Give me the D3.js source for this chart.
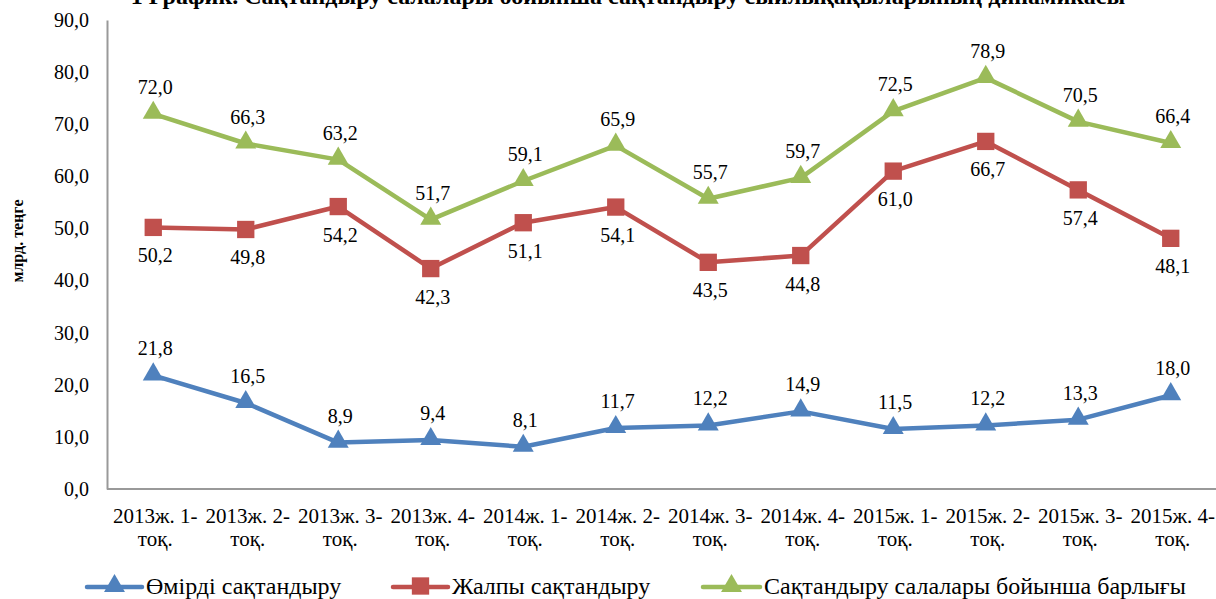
<!DOCTYPE html>
<html lang="kk">
<head>
    <meta charset="UTF-8">
    <title>Сақтандыру сыйлықақылары</title>
    <script src="https://cdn.jsdelivr.net/npm/d3@7"></script>
    <style>
        html, body {
            margin: 0;
            padding: 0;
            width: 100%;
            height: 100%;
            overflow: hidden;
            background: #ffffff;
        }
        svg text {
            font-family: "Liberation Serif", "Times New Roman", serif;
            fill: #000;
        }
    </style>
</head>
<body>
</body>
<script>
    // categories
    const quarters = [
        ['2013ж. 1-', 'тоқ.'], ['2013ж. 2-', 'тоқ.'], ['2013ж. 3-', 'тоқ.'], ['2013ж. 4-', 'тоқ.'],
        ['2014ж. 1-', 'тоқ.'], ['2014ж. 2-', 'тоқ.'], ['2014ж. 3-', 'тоқ.'], ['2014ж. 4-', 'тоқ.'],
        ['2015ж. 1-', 'тоқ.'], ['2015ж. 2-', 'тоқ.'], ['2015ж. 3-', 'тоқ.'], ['2015ж. 4-', 'тоқ.']
    ];

    // series values, млрд. теңге
    const lifeIns = [21.8, 16.5, 8.9, 9.4, 8.1, 11.7, 12.2, 14.9, 11.5, 12.2, 13.3, 18.0];
    const generalIns = [50.2, 49.8, 54.2, 42.3, 51.1, 54.1, 43.5, 44.8, 61.0, 66.7, 57.4, 48.1];
    const totalIns = [72.0, 66.3, 63.2, 51.7, 59.1, 65.9, 55.7, 59.7, 72.5, 78.9, 70.5, 66.4];

    const yTicks = [0, 10, 20, 30, 40, 50, 60, 70, 80, 90];

    const series = [
        {name: 'Өмірді сақтандыру', values: lifeIns, color: '#4f81bd', marker: 'triangle', labelPos: 'above'},
        {name: 'Жалпы сақтандыру', values: generalIns, color: '#c0504d', marker: 'square', labelPos: 'below'},
        {name: 'Сақтандыру салалары бойынша барлығы', values: totalIns, color: '#9bbb59', marker: 'triangle', labelPos: 'above'}
    ];

    const width = 1216;
    const height = 599;
    const margin = {top: 20, left: 107, bottom: 110};
    const fmt = v => d3.format('.1f')(v).replace('.', ',');

    const svg = d3.select('body').append('svg')
        .attr('width', width)
        .attr('height', height);

    // заголовок (жоғарыдан қиылған)
    svg.append('text')
        .attr('x', 628)
        .attr('y', 4)
        .attr('text-anchor', 'middle')
        .style('font-size', '24px')
        .style('font-weight', 'bold')
        .text('1 График. Сақтандыру салалары бойынша сақтандыру сыйлықақыларының динамикасы');

    const x = d3.scaleBand()
        .domain(d3.range(quarters.length))
        .range([margin.left, margin.left + 92.5 * quarters.length]);

    const y = d3.scaleLinear()
        .domain([0, 90])
        .range([height - margin.bottom, margin.top]);

    const cx = i => x(i) + x.bandwidth() / 2;

    // оси
    const yAxis = svg.append('g')
        .attr('transform', `translate(${margin.left},0)`)
        .call(d3.axisLeft(y).tickValues(yTicks).tickSize(0).tickPadding(18).tickFormat(fmt));
    yAxis.select('.domain').attr('stroke', '#999').attr('stroke-width', 2);
    yAxis.selectAll('text').style('font-size', '20px');

    svg.append('line')
        .attr('x1', margin.left)
        .attr('x2', width)
        .attr('y1', y(0))
        .attr('y2', y(0))
        .attr('stroke', '#999')
        .attr('stroke-width', 2);

    const xLabels = svg.append('g')
        .selectAll('text')
        .data(quarters)
        .enter().append('text')
        .attr('text-anchor', 'middle')
        .attr('x', (d, i) => cx(i) + 2)
        .attr('y', 523)
        .style('font-size', '21px');
    xLabels.append('tspan').text(d => d[0]);
    xLabels.append('tspan')
        .attr('x', (d, i) => cx(i) + 2)
        .attr('dy', 23)
        .text(d => d[1]);

    svg.append('text')
        .attr('transform', `translate(23,241) rotate(-90)`)
        .attr('text-anchor', 'middle')
        .style('font-size', '16px')
        .style('font-weight', 'bold')
        .text('млрд. теңге');

    const triangle = d3.symbol().type(d3.symbolTriangle).size(190);
    const square = d3.symbol().type(d3.symbolSquare).size(300);

    const line = d3.line()
        .x((d, i) => cx(i))
        .y(d => y(d));

    series.forEach(s => {
        const g = svg.append('g');
        g.append('path')
            .datum(s.values)
            .attr('d', line)
            .attr('fill', 'none')
            .attr('stroke', s.color)
            .attr('stroke-width', 4.5)
            .attr('stroke-linejoin', 'round');

        g.selectAll('.marker')
            .data(s.values)
            .enter().append('path')
            .attr('transform', (d, i) => `translate(${cx(i)},${y(d) + (s.marker === 'triangle' ? -1 : 0)})`)
            .attr('d', s.marker === 'triangle' ? triangle : square)
            .attr('fill', s.color);

        g.selectAll('.label')
            .data(s.values)
            .enter().append('text')
            .attr('text-anchor', 'middle')
            .attr('x', (d, i) => cx(i) + 2)
            .attr('y', d => y(d) + (s.labelPos === 'above' ? -20 : 35))
            .style('font-size', '20px')
            .text(fmt);
    });

    // легенда
    const legendItems = [
        {s: series[0], x1: 87, x2: 142, tx: 146},
        {s: series[1], x1: 393, x2: 448, tx: 452},
        {s: series[2], x1: 703, x2: 760, tx: 764}
    ];
    const legend = svg.append('g');
    legendItems.forEach(it => {
        const ly = 587;
        legend.append('line')
            .attr('x1', it.x1).attr('x2', it.x2)
            .attr('y1', ly).attr('y2', ly)
            .attr('stroke', it.s.color)
            .attr('stroke-width', 4.5)
            .attr('stroke-linecap', 'round');
        legend.append('path')
            .attr('transform', `translate(${(it.x1 + it.x2) / 2},${ly - 1})`)
            .attr('d', it.s.marker === 'triangle' ? triangle : square)
            .attr('fill', it.s.color);
        legend.append('text')
            .attr('x', it.tx)
            .attr('y', 594)
            .style('font-size', '24px')
            .text(it.s.name);
    });
</script>
</html>
